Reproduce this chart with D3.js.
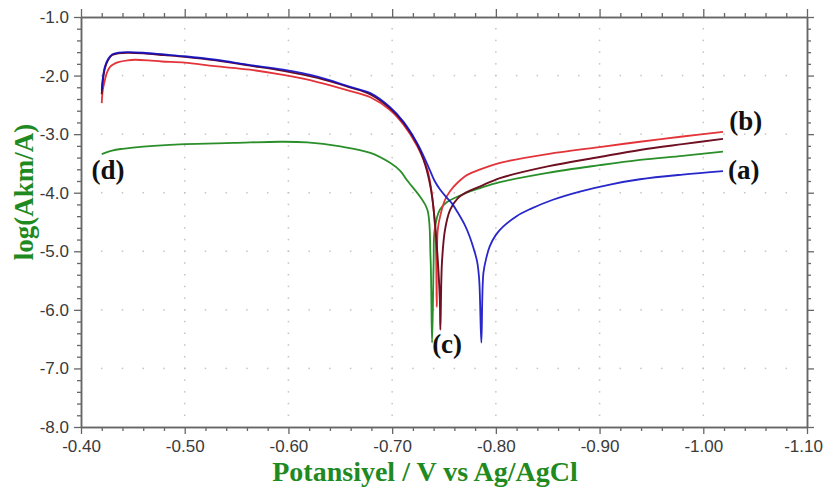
<!DOCTYPE html>
<html>
<head>
<meta charset="utf-8">
<script src="https://cdn.jsdelivr.net/npm/d3@7"></script>
<style>
  html, body { margin: 0; padding: 0; background: #fff; }
  svg { display: block; }
  .tick-label { font-family: "Liberation Sans", Arial, sans-serif; font-size: 17px; fill: #3a3a3a; }
  .title { font-family: "Liberation Serif", "Times New Roman", serif; font-weight: bold; fill: #1f8a1f; }
  .curve-label { font-family: "Liberation Serif", "Times New Roman", serif; font-weight: bold; font-size: 27px; fill: #111; }
</style>
</head>
<body>
<svg id="chart" width="825" height="489"></svg>
<script>
// Potentiodynamic polarization curves: potential (V vs Ag/AgCl) vs log(current / A)

// Curve (a)
const potentialA = [-0.420,-0.421,-0.423,-0.426,-0.430,-0.436,-0.445,-0.460,-0.480,-0.500,-0.530,-0.563,-0.595,-0.628,-0.659,-0.679,-0.698,-0.711,-0.724,-0.731,-0.737,-0.741,-0.746,-0.752,-0.758,-0.763,-0.770,-0.775,-0.779,-0.782,-0.784,-0.786,-0.788,-0.791,-0.794,-0.800,-0.807,-0.820,-0.833,-0.855,-0.881,-0.910,-0.939,-0.980,-1.019];
const logCurrentA = [-2.25,-2.05,-1.85,-1.72,-1.64,-1.61,-1.60,-1.61,-1.64,-1.67,-1.73,-1.82,-1.90,-2.02,-2.19,-2.30,-2.54,-2.79,-3.15,-3.40,-3.64,-3.80,-3.94,-4.07,-4.19,-4.33,-4.55,-4.76,-4.98,-5.18,-5.50,-6.56,-5.37,-5.10,-4.92,-4.72,-4.58,-4.40,-4.28,-4.12,-3.98,-3.86,-3.77,-3.69,-3.63];

// Curve (b)
const potentialB = [-0.420,-0.421,-0.423,-0.425,-0.428,-0.432,-0.436,-0.445,-0.452,-0.465,-0.478,-0.500,-0.529,-0.563,-0.595,-0.628,-0.659,-0.679,-0.698,-0.711,-0.724,-0.734,-0.739,-0.742,-0.743,-0.744,-0.747,-0.751,-0.756,-0.763,-0.772,-0.785,-0.804,-0.850,-0.900,-0.939,-0.980,-1.019];
const logCurrentB = [-2.47,-2.25,-2.08,-1.95,-1.85,-1.80,-1.77,-1.74,-1.73,-1.74,-1.76,-1.78,-1.84,-1.90,-1.99,-2.11,-2.26,-2.37,-2.59,-2.84,-3.20,-3.61,-4.12,-4.81,-5.95,-4.63,-4.35,-4.12,-3.97,-3.83,-3.70,-3.60,-3.49,-3.34,-3.22,-3.13,-3.04,-2.96];

// Curve (c)
const potentialC = [-0.420,-0.421,-0.423,-0.426,-0.430,-0.436,-0.445,-0.460,-0.480,-0.500,-0.530,-0.563,-0.595,-0.628,-0.659,-0.679,-0.698,-0.711,-0.724,-0.732,-0.7375,-0.741,-0.744,-0.746,-0.7465,-0.748,-0.751,-0.756,-0.763,-0.772,-0.785,-0.804,-0.850,-0.900,-0.939,-0.980,-1.019];
const logCurrentC = [-2.32,-2.10,-1.88,-1.74,-1.65,-1.62,-1.61,-1.62,-1.65,-1.68,-1.74,-1.83,-1.92,-2.04,-2.20,-2.32,-2.56,-2.81,-3.17,-3.53,-3.95,-4.46,-5.15,-5.83,-6.34,-5.20,-4.63,-4.29,-4.10,-3.99,-3.89,-3.75,-3.55,-3.39,-3.27,-3.17,-3.08];

// Curve (d)
const potentialD = [-0.420,-0.430,-0.440,-0.450,-0.470,-0.500,-0.547,-0.592,-0.618,-0.650,-0.679,-0.698,-0.708,-0.714,-0.727,-0.734,-0.737,-0.7385,-0.740,-0.741,-0.746,-0.753,-0.772,-0.785,-0.804,-0.850,-0.900,-0.939,-0.980,-1.019];
const logCurrentD = [-3.34,-3.28,-3.25,-3.23,-3.20,-3.17,-3.15,-3.13,-3.14,-3.21,-3.32,-3.49,-3.63,-3.78,-4.07,-4.29,-5.10,-6.56,-5.20,-4.63,-4.29,-4.16,-4.00,-3.92,-3.82,-3.66,-3.53,-3.44,-3.37,-3.30];

// Axis ticks
const xMajorTicks = [-0.40,-0.50,-0.60,-0.70,-0.80,-0.90,-1.00,-1.10];
const xTickLabels = ["-0.40","-0.50","-0.60","-0.70","-0.80","-0.90","-1.00","-1.10"];
const yMajorTicks = [-1,-2,-3,-4,-5,-6,-7,-8];
const yTickLabels = ["-1.0","-2.0","-3.0","-4.0","-5.0","-6.0","-7.0","-8.0"];

const xTitle = "Potansiyel / V vs Ag/AgCl";
const yTitle = "log(Akm/A)";

const curveLabels = [
  { text: "(a)", E: -1.039, logI: -3.76 },
  { text: "(b)", E: -1.041, logI: -2.93 },
  { text: "(c)", E: -0.753, logI: -6.73 },
  { text: "(d)", E: -0.426, logI: -3.76 }
];

const series = [
  { E: potentialD, L: logCurrentD, color: "#2a8f2a", width: 1.8, opacity: 1 },
  { E: potentialB, L: logCurrentB, color: "#e3343a", width: 1.8, opacity: 1 },
  { E: potentialC, L: logCurrentC, color: "#6e0f22", width: 1.9, opacity: 1 },
  { E: potentialA, L: logCurrentA, color: "#1010c4", width: 1.8, opacity: 0.9 }
];

const W = 825, H = 489;
const margin = { left: 81, right: 18, top: 17, bottom: 62 };
const svg = d3.select("#chart");

const x = d3.scaleLinear().domain([-0.40, -1.10]).range([margin.left, W - margin.right]);
const y = d3.scaleLinear().domain([-1, -8]).range([margin.top, H - margin.bottom]);

// minor ticks: 0.02 V on x, 0.2 decades on y
const xAllSteps = d3.range(0, 36).map(i => -0.40 - i * 0.02);
const yAllSteps = d3.range(0, 36).map(i => -1 - i * 0.2);
const xMinor = xAllSteps.filter((v, i) => i % 5 !== 0);
const yMinor = yAllSteps.filter((v, i) => i % 5 !== 0);

// dotted grid: dots along major lines at each minor step
const grid = svg.append("g").attr("fill", "#c4c4c4");
yMajorTicks.slice(1, -1).forEach(v => {
  xAllSteps.slice(1, -1).forEach(e => {
    grid.append("rect").attr("x", x(e) - 0.75).attr("y", y(v) - 0.75).attr("width", 1.5).attr("height", 1.5);
  });
});
xMajorTicks.slice(1, -1).forEach(e => {
  yAllSteps.slice(1, -1).forEach(v => {
    grid.append("rect").attr("x", x(e) - 0.75).attr("y", y(v) - 0.75).attr("width", 1.5).attr("height", 1.5);
  });
});

// axes on all four sides, ticks pointing outward
const axisColor = "#666";
function styleAxis(g) {
  g.select(".domain").attr("stroke", axisColor).attr("stroke-width", 1.5);
  g.selectAll(".tick line").attr("stroke", axisColor).attr("stroke-width", 1.3);
}
const bottomMajor = svg.append("g").attr("transform", `translate(0,${H - margin.bottom})`)
  .call(d3.axisBottom(x).tickValues(xMajorTicks).tickSize(7).tickSizeOuter(0).tickFormat((d, i) => xTickLabels[i]).tickPadding(6));
styleAxis(bottomMajor);
bottomMajor.selectAll(".tick text").attr("class", "tick-label").attr("font-size", null).attr("font-family", null).attr("fill", null);
// keep the last label inside the frame
bottomMajor.selectAll(".tick text").filter((d, i) => i === xMajorTicks.length - 1).attr("dx", -4);
const bottomMinor = svg.append("g").attr("transform", `translate(0,${H - margin.bottom})`)
  .call(d3.axisBottom(x).tickValues(xMinor).tickSize(4).tickSizeOuter(0).tickFormat(""));
styleAxis(bottomMinor);

const topMajor = svg.append("g").attr("transform", `translate(0,${margin.top})`)
  .call(d3.axisTop(x).tickValues(xMajorTicks).tickSize(8).tickSizeOuter(0).tickFormat(""));
styleAxis(topMajor);
const topMinor = svg.append("g").attr("transform", `translate(0,${margin.top})`)
  .call(d3.axisTop(x).tickValues(xMinor).tickSize(4).tickSizeOuter(0).tickFormat(""));
styleAxis(topMinor);

const leftMajor = svg.append("g").attr("transform", `translate(${margin.left},0)`)
  .call(d3.axisLeft(y).tickValues(yMajorTicks).tickSize(7).tickSizeOuter(0).tickFormat((d, i) => yTickLabels[i]).tickPadding(5));
styleAxis(leftMajor);
leftMajor.selectAll(".tick text").attr("class", "tick-label").attr("font-size", null).attr("font-family", null).attr("fill", null);
const leftMinor = svg.append("g").attr("transform", `translate(${margin.left},0)`)
  .call(d3.axisLeft(y).tickValues(yMinor).tickSize(4).tickSizeOuter(0).tickFormat(""));
styleAxis(leftMinor);

const rightMajor = svg.append("g").attr("transform", `translate(${W - margin.right},0)`)
  .call(d3.axisRight(y).tickValues(yMajorTicks).tickSize(7).tickSizeOuter(0).tickFormat(""));
styleAxis(rightMajor);
const rightMinor = svg.append("g").attr("transform", `translate(${W - margin.right},0)`)
  .call(d3.axisRight(y).tickValues(yMinor).tickSize(4).tickSizeOuter(0).tickFormat(""));
styleAxis(rightMinor);

// curves
const line = d3.line()
  .x(d => x(d[0]))
  .y(d => y(d[1]))
  .curve(d3.curveCatmullRom.alpha(0.5));

series.forEach(s => {
  const pts = s.E.map((e, i) => [e, s.L[i]]);
  svg.append("path")
    .datum(pts)
    .attr("fill", "none")
    .attr("stroke", s.color)
    .attr("stroke-width", s.width)
    .attr("stroke-opacity", s.opacity)
    .attr("stroke-linejoin", "round")
    .attr("d", line);
});

// curve labels
svg.append("g").selectAll("text")
  .data(curveLabels)
  .join("text")
  .attr("class", "curve-label")
  .attr("x", d => x(d.E))
  .attr("y", d => y(d.logI))
  .attr("text-anchor", "middle")
  .text(d => d.text);

// axis titles
svg.append("text")
  .attr("class", "title")
  .attr("font-size", 28)
  .attr("x", 425)
  .attr("y", 481)
  .attr("text-anchor", "middle")
  .text(xTitle);

svg.append("text")
  .attr("class", "title")
  .attr("font-size", 27)
  .attr("transform", `translate(33,${(margin.top + H - margin.bottom) / 2 - 30}) rotate(-90)`)
  .attr("text-anchor", "middle")
  .text(yTitle);
</script>
</body>
</html>
